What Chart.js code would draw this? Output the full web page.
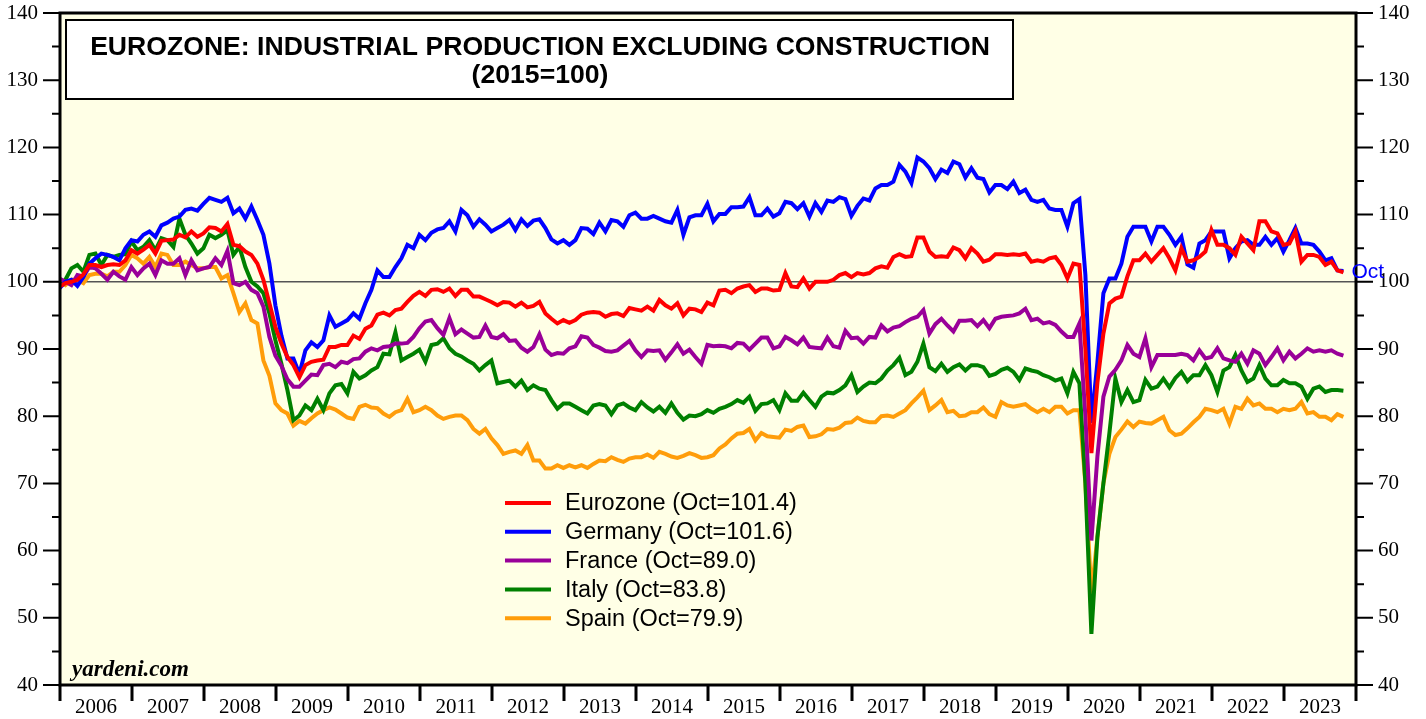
<!DOCTYPE html>
<html>
<head>
<meta charset="utf-8">
<title>Eurozone: Industrial Production Excluding Construction</title>
<script src="https://cdn.jsdelivr.net/npm/chart.js@4.4.0/dist/chart.umd.min.js"></script>
<style>
  html, body { margin: 0; padding: 0; background: #fff; }
  #wrap { width: 1426px; height: 719px; }
</style>
</head>
<body>
<div id="wrap"><canvas id="ip-chart" width="1426" height="719"></canvas></div>
<script>
'use strict';

// monthly, Dec 2005 .. Oct 2023 (2015=100)
const eurozone = [
    99.3,
    99.8, 100.0, 100.3, 101.1, 102.5, 102.5, 102.2, 102.5, 102.6, 102.5, 103.2, 104.7,
    104.2, 104.8, 105.5, 104.2, 106.1, 106.2, 106.3, 107.0, 106.6, 107.5, 106.7, 107.2,
    108.1, 108.0, 107.5, 108.6, 105.5, 105.3, 104.5, 104.0, 102.7, 100.3, 96.8, 93.3,
    90.8, 88.8, 87.6, 85.8, 87.6, 88.1, 88.3, 88.4, 90.3, 90.3, 90.6, 90.6,
    92.0, 91.5, 93.0, 93.5, 95.1, 95.4, 95.0, 95.8, 96.0, 97.0, 97.9, 98.5,
    97.9, 98.8, 98.9, 98.5, 99.0, 97.9, 98.8, 98.8, 97.8, 97.8, 97.4, 97.0,
    96.5, 97.0, 96.9, 96.3, 96.9, 96.2, 96.4, 97.0, 95.3, 94.5, 93.8, 94.3,
    93.9, 94.3, 95.1, 95.4, 95.5, 95.4, 94.8, 95.2, 95.3, 94.9, 96.1, 95.9,
    95.7, 96.3, 95.7, 97.3, 96.5, 96.0, 96.8, 95.0, 96.0, 95.9, 95.5, 96.9,
    96.5, 98.7, 98.8, 98.3, 99.0, 99.3, 99.5, 98.5, 99.0, 99.0, 98.7, 98.8,
    101.3, 99.3, 99.2, 100.5, 99.0, 100.0, 100.0, 100.0, 100.3, 101.0, 101.3, 100.7,
    101.3, 101.1, 101.3, 102.0, 102.3, 102.1, 103.7, 104.1, 103.7, 103.8, 106.6, 106.6,
    104.5, 103.7, 103.8, 103.7, 105.1, 104.7, 103.5, 105.0, 104.2, 103.0, 103.3, 104.1,
    104.1, 104.0, 104.1, 104.0, 104.2, 103.0, 103.2, 103.0, 103.5, 103.7, 102.5, 100.5,
    102.7, 102.5, 90.0, 74.5, 85.0, 92.3, 96.8, 97.5, 97.8, 100.8, 103.2, 103.2,
    104.2, 103.0, 104.0, 105.0, 103.5, 101.7, 105.0, 103.0, 103.2, 103.7, 104.5, 107.7,
    105.5, 105.5, 105.0, 104.0, 106.7, 105.7, 104.7, 109.0, 109.0, 107.5, 107.2, 105.5,
    105.7, 107.5, 103.0, 104.0, 104.0, 103.7, 102.5, 103.0, 101.7, 101.4
];

const germany = [
    99.0,
    100.0, 100.3, 99.4, 100.7, 102.7, 103.5, 104.2, 104.0, 103.7, 103.2, 105.0, 106.2,
    106.0, 107.0, 107.5, 106.7, 108.4, 108.8, 109.4, 109.7, 110.7, 110.9, 110.6, 111.6,
    112.5, 112.2, 111.9, 112.5, 110.2, 110.9, 109.4, 111.2, 109.2, 107.0, 102.7, 96.5,
    92.0, 88.6, 88.6, 86.3, 89.8, 91.0, 90.3, 91.3, 95.0, 93.3, 93.8, 94.3,
    95.3, 94.5, 96.8, 98.8, 101.7, 100.7, 100.7, 102.2, 103.5, 105.5, 105.0, 107.0,
    106.2, 107.3, 107.8, 108.0, 109.0, 107.5, 110.7, 109.9, 108.2, 109.3, 108.5, 107.5,
    108.0, 108.5, 109.2, 107.7, 109.3, 108.3, 109.1, 109.3, 108.0, 106.3, 105.7, 106.2,
    105.5, 106.2, 108.0, 107.9, 107.1, 108.8, 107.5, 109.2, 109.0, 108.2, 109.9, 110.3,
    109.4, 109.4, 109.8, 109.4, 109.0, 108.8, 110.7, 107.0, 109.6, 109.9, 109.9, 111.6,
    109.0, 110.1, 110.1, 111.1, 111.1, 111.2, 112.6, 109.9, 109.9, 110.9, 109.7, 110.2,
    111.9, 111.7, 110.8, 111.7, 109.7, 111.7, 110.4, 112.1, 111.9, 112.6, 112.3, 109.8,
    111.3, 112.4, 112.1, 113.9, 114.4, 114.4, 114.9, 117.4, 116.4, 114.7, 118.5, 117.9,
    116.9, 115.3, 116.7, 116.2, 117.9, 117.5, 115.5, 116.9, 115.5, 115.3, 113.3, 114.4,
    114.4, 113.8, 114.9, 113.2, 113.7, 112.2, 111.9, 112.2, 110.9, 110.7, 110.7, 108.2,
    111.7, 112.3, 101.0, 79.0, 88.0, 98.3, 100.5, 100.5, 102.7, 106.7, 108.2, 108.2,
    108.2, 106.0, 108.2, 108.2, 107.0, 105.5, 106.7, 102.6, 102.1, 105.7, 106.2, 107.5,
    107.5, 107.5, 103.5, 105.0, 106.0, 106.2, 105.5, 105.5, 106.7, 105.5, 106.5, 104.5,
    106.2, 108.0, 105.7, 105.7, 105.5, 104.5, 103.2, 103.5, 101.7, 101.6
];

const france = [
    100.5,
    100.0, 99.5, 101.0, 100.8, 102.2, 102.0, 101.2, 100.3, 101.5, 100.8, 100.3, 102.2,
    101.0, 102.0, 102.7, 101.0, 103.2, 102.7, 102.7, 103.5, 101.0, 103.2, 101.7, 102.0,
    102.2, 103.5, 102.5, 104.6, 99.8, 99.5, 100.0, 98.8, 98.3, 96.3, 91.8, 89.0,
    87.5, 85.5, 84.4, 84.4, 85.3, 86.2, 86.1, 87.6, 87.8, 87.3, 88.1, 87.9,
    88.5, 88.6, 89.6, 90.1, 89.8, 90.3, 90.4, 90.8, 90.8, 90.9, 91.8, 93.1,
    94.1, 94.3, 93.1, 92.1, 94.6, 92.2, 92.9, 92.3, 91.7, 91.8, 93.5, 91.8,
    91.6, 92.2, 91.2, 91.3, 90.2, 89.6, 90.3, 92.2, 89.9, 89.1, 89.4, 89.3,
    90.1, 90.4, 91.9, 91.7, 90.6, 90.2, 89.7, 89.6, 89.8, 90.5, 91.2, 89.8,
    88.8, 89.8, 89.7, 89.8, 88.4, 89.5, 90.7, 89.3, 89.9, 88.8, 87.8, 90.6,
    90.4, 90.5, 90.4, 90.1, 90.9, 90.8, 89.9, 90.8, 91.7, 91.7, 90.1, 90.4,
    91.8, 91.3, 90.7, 91.7, 90.3, 90.2, 90.1, 91.7, 90.4, 90.2, 92.7, 91.6,
    91.7, 90.8, 91.8, 91.7, 93.5, 92.6, 93.2, 93.4, 94.0, 94.5, 94.8, 95.8,
    92.3, 93.7, 94.5, 93.5, 92.6, 94.2, 94.2, 94.3, 93.4, 94.3, 93.1, 94.5,
    94.8, 94.9, 95.0, 95.3, 96.0, 94.3, 94.5, 93.8, 94.0, 93.6, 92.6, 91.8,
    91.8, 93.8, 80.0, 61.5, 74.0, 82.9, 85.9, 86.9, 88.3, 90.6, 89.3, 88.8,
    91.6, 87.3, 89.1, 89.1, 89.1, 89.1, 89.3, 89.1, 88.3, 89.8, 88.6, 88.8,
    90.1, 88.6, 88.3, 88.1, 89.3, 87.8, 89.8, 89.3, 87.6, 88.8, 90.1, 88.3,
    89.6, 88.6, 89.3, 90.1, 89.6, 89.8, 89.6, 89.8, 89.3, 89.0
];

const italy = [
    99.5,
    100.3, 102.0, 102.5, 101.5, 104.0, 104.2, 102.5, 104.0, 103.7, 104.0, 104.1, 106.0,
    104.7, 105.2, 106.2, 104.7, 106.5, 106.2, 105.2, 109.4, 107.0, 105.7, 104.2, 105.0,
    107.0, 106.5, 107.0, 107.7, 104.0, 105.2, 102.2, 100.0, 99.3, 98.3, 95.3, 91.3,
    87.8, 83.9, 79.4, 80.1, 81.6, 80.9, 82.6, 80.9, 83.4, 84.6, 84.8, 83.4,
    86.6, 85.6, 86.1, 86.8, 87.3, 89.3, 89.2, 92.5, 88.3, 88.8, 89.3, 89.9,
    88.1, 90.6, 90.8, 91.6, 90.1, 89.3, 88.9, 88.3, 87.8, 86.8, 87.6, 88.3,
    84.9, 85.1, 85.3, 84.4, 85.3, 83.9, 84.6, 84.1, 83.9, 82.4, 81.1, 81.9,
    81.9, 81.4, 80.9, 80.4, 81.6, 81.8, 81.6, 80.3, 81.6, 81.9, 81.3, 80.9,
    82.1, 81.3, 80.7, 81.4, 80.5, 81.9, 80.5, 79.5, 80.1, 80.0, 80.3, 80.9,
    80.5, 81.1, 81.4, 81.8, 82.4, 82.0, 82.9, 80.8, 81.8, 81.9, 82.4, 80.9,
    83.4, 82.3, 82.3, 83.5, 82.4, 81.4, 82.9, 83.5, 83.4, 83.9, 84.6, 86.1,
    83.6, 84.4, 85.0, 84.9, 85.6, 86.8, 87.6, 88.7, 86.1, 86.6, 88.1, 90.8,
    87.3, 86.7, 87.8, 86.6, 87.3, 87.7, 86.8, 87.6, 87.6, 87.3, 86.0, 86.3,
    86.9, 87.2, 86.6, 85.4, 87.1, 86.8, 86.6, 86.1, 85.8, 85.3, 85.6, 83.4,
    86.6, 84.9, 70.0, 47.6, 62.0, 70.0, 77.5, 85.6, 82.1, 83.9, 82.1, 82.4,
    85.4, 84.1, 84.4, 85.6, 84.3, 85.7, 86.6, 85.2, 86.1, 86.1, 87.6, 86.1,
    83.6, 86.8, 87.3, 89.1, 86.8, 85.1, 85.6, 87.6, 85.6, 84.6, 84.6, 85.4,
    84.9, 84.9, 84.4, 82.6, 84.1, 84.4, 83.6, 83.9, 83.9, 83.8
];

const spain = [
    100.0,
    99.5, 100.3, 100.3, 99.8, 101.0, 101.2, 101.2, 100.8, 101.5, 101.5, 102.5, 104.0,
    103.5, 102.7, 103.7, 102.2, 104.2, 104.0, 102.5, 102.5, 103.0, 102.5, 102.0, 102.0,
    102.2, 102.2, 100.5, 101.0, 98.3, 95.5, 96.8, 94.3, 93.8, 88.3, 86.0, 81.9,
    80.9, 80.4, 78.6, 79.3, 78.9, 79.7, 80.4, 80.9, 81.3, 81.0, 80.4, 79.8,
    79.6, 81.4, 81.7, 81.3, 81.2, 80.4, 79.9, 80.6, 80.9, 82.6, 80.6, 80.9,
    81.4, 80.9, 80.1, 79.6, 79.9, 80.1, 80.1, 79.4, 78.1, 77.4, 78.1, 76.7,
    75.7, 74.4, 74.7, 74.9, 74.4, 75.7, 73.4, 73.4, 72.2, 72.2, 72.7, 72.3,
    72.7, 72.4, 72.7, 72.3, 72.9, 73.4, 73.3, 73.9, 73.5, 73.2, 73.7, 73.9,
    73.9, 74.3, 73.8, 74.7, 74.4, 74.0, 73.8, 74.1, 74.5, 74.2, 73.8, 73.9,
    74.2, 75.2, 75.8, 76.7, 77.4, 77.5, 78.1, 76.4, 77.5, 77.0, 76.9, 76.8,
    78.0, 77.8, 78.4, 78.6, 76.9, 77.0, 77.3, 78.1, 78.0, 78.3, 79.0, 79.1,
    79.8, 79.3, 79.1, 79.1, 80.0, 80.1, 79.9, 80.4, 80.9, 81.9, 82.8, 83.8,
    80.9, 81.6, 82.4, 80.6, 80.8, 80.0, 80.1, 80.6, 80.6, 81.3, 80.3, 79.9,
    82.1, 81.6, 81.4, 81.6, 81.8, 81.1, 80.6, 81.1, 80.6, 81.4, 81.4, 80.4,
    80.9, 80.9, 70.0, 53.6, 62.0, 70.0, 74.4, 76.9, 78.0, 79.2, 78.4, 79.2,
    79.0, 78.9, 79.4, 79.9, 77.9, 77.2, 77.4, 78.2, 79.1, 79.9, 81.1, 80.9,
    80.6, 81.1, 78.9, 81.4, 81.1, 82.6, 81.6, 81.9, 81.1, 81.1, 80.6, 81.1,
    80.9, 81.1, 82.1, 80.4, 80.6, 79.9, 79.9, 79.4, 80.3, 79.9
];

const seriesLabels = [
    'Eurozone (Oct=101.4)',
    'Germany (Oct=101.6)',
    'France (Oct=89.0)',
    'Italy (Oct=83.8)',
    'Spain (Oct=79.9)'
];
const seriesColors = ['#ff0000', '#0000ff', '#990099', '#008000', '#ff9d0a'];
const yearLabels = ['2006', '2007', '2008', '2009', '2010', '2011', '2012', '2013', '2014',
    '2015', '2016', '2017', '2018', '2019', '2020', '2021', '2022', '2023'];

const serif = "'Liberation Serif', 'Times New Roman', serif";
const sans = "'Liberation Sans', Arial, sans-serif";

// month index: -1 = Dec 2005, 0 = Jan 2006 ...
function toPoints(values) {
    return values.map((v, i) => ({x: i - 1, y: v}));
}

const decor = {
    id: 'decor',
    beforeDraw(chart) {
        const {ctx, chartArea: a} = chart;
        ctx.save();
        ctx.fillStyle = '#ffffff';
        ctx.fillRect(0, 0, chart.width, chart.height);
        ctx.fillStyle = '#ffffe6';
        ctx.fillRect(a.left, a.top, a.right - a.left, a.bottom - a.top);
        ctx.restore();
    },
    beforeDatasetsDraw(chart) {
        const {ctx, chartArea: a, scales} = chart;
        const y = scales.y.getPixelForValue(100);
        ctx.save();
        ctx.strokeStyle = '#555555';
        ctx.lineWidth = 1.5;
        ctx.beginPath();
        ctx.moveTo(a.left, y);
        ctx.lineTo(a.right, y);
        ctx.stroke();
        ctx.restore();
    },
    afterDraw(chart) {
        const {ctx, chartArea: a, scales} = chart;
        ctx.save();

        // frame
        ctx.strokeStyle = '#000';
        ctx.lineWidth = 3;
        ctx.strokeRect(a.left, a.top, a.right - a.left, a.bottom - a.top);

        // value ticks, both sides
        ctx.lineWidth = 2;
        ctx.beginPath();
        for (let v = 40; v <= 140; v += 5) {
            const len = v % 10 === 0 ? 17 : 8;
            const y = scales.y.getPixelForValue(v);
            ctx.moveTo(a.left - len, y);
            ctx.lineTo(a.left, y);
            ctx.moveTo(a.right, y);
            ctx.lineTo(a.right + len, y);
        }
        ctx.stroke();

        // year ticks
        ctx.lineWidth = 3;
        ctx.beginPath();
        for (let k = 0; k <= yearLabels.length; k++) {
            const x = scales.x.getPixelForValue(12 * k - 0.9);
            ctx.moveTo(x, a.bottom);
            ctx.lineTo(x, a.bottom + 16);
        }
        ctx.stroke();

        // title box
        ctx.fillStyle = '#fff';
        ctx.fillRect(66, 20, 947, 79);
        ctx.lineWidth = 2;
        ctx.strokeRect(66, 20, 947, 79);
        ctx.fillStyle = '#000';
        ctx.textAlign = 'center';
        ctx.textBaseline = 'alphabetic';
        ctx.font = 'bold 26.6px ' + sans;
        ctx.fillText('EUROZONE: INDUSTRIAL PRODUCTION EXCLUDING CONSTRUCTION', 540, 55);
        ctx.fillText('(2015=100)', 540, 83);

        // legend
        ctx.textAlign = 'left';
        ctx.textBaseline = 'middle';
        ctx.font = '23.5px ' + sans;
        chart.data.datasets.forEach((ds, k) => {
            const y = 503 + k * 28.8;
            ctx.strokeStyle = ds.borderColor;
            ctx.lineWidth = 4;
            ctx.beginPath();
            ctx.moveTo(505, y);
            ctx.lineTo(551, y);
            ctx.stroke();
            ctx.fillStyle = '#000';
            ctx.fillText(ds.label, 565, y + 1);
        });

        // end label on Germany
        const meta = chart.getDatasetMeta(1);
        const last = meta.data[meta.data.length - 1];
        ctx.fillStyle = '#0000ff';
        ctx.font = '21px ' + sans;
        ctx.fillText('Oct', last.x + 8, last.y + 1);

        // source
        ctx.fillStyle = '#000';
        ctx.textBaseline = 'alphabetic';
        ctx.font = 'bold italic 23px ' + serif;
        ctx.fillText('yardeni.com', a.left + 12, a.bottom - 9);

        ctx.restore();
    }
};

const datasets = [eurozone, germany, france, italy, spain].map((values, k) => ({
    label: seriesLabels[k],
    data: toPoints(values),
    borderColor: seriesColors[k],
    borderWidth: 4,
    pointRadius: 0,
    tension: 0,
    fill: false
}));

const valueAxis = (position, width) => ({
    position: position,
    min: 40,
    max: 140,
    grid: {display: false, drawTicks: false},
    border: {display: false},
    ticks: {stepSize: 10, padding: 22, color: '#000', font: {family: serif, size: 21}},
    afterFit: axis => {
        axis.width = width;
        axis.paddingTop = 0;
        axis.paddingBottom = 0;
    }
});

new Chart(document.getElementById('ip-chart'), {
    type: 'line',
    data: {datasets: datasets},
    options: {
        responsive: false,
        animation: false,
        layout: {padding: {top: 13, left: 0, right: 0, bottom: 0}},
        plugins: {legend: {display: false}, tooltip: {enabled: false}},
        scales: {
            x: {
                type: 'linear',
                min: -0.9,
                max: 215.1,
                grid: {display: false, drawTicks: false},
                border: {display: false},
                afterBuildTicks: axis => {
                    axis.ticks = yearLabels.map((_, k) => ({value: 12 * k + 5.1}));
                },
                ticks: {
                    autoSkip: false,
                    maxRotation: 0,
                    padding: 10,
                    color: '#000',
                    font: {family: serif, size: 21},
                    callback: (value, index) => yearLabels[index]
                },
                afterFit: axis => {
                    axis.height = 34;
                    axis.paddingLeft = 0;
                    axis.paddingRight = 0;
                }
            },
            y: valueAxis('left', 60),
            y2: valueAxis('right', 70)
        }
    },
    plugins: [decor]
});
</script>
</body>
</html>
